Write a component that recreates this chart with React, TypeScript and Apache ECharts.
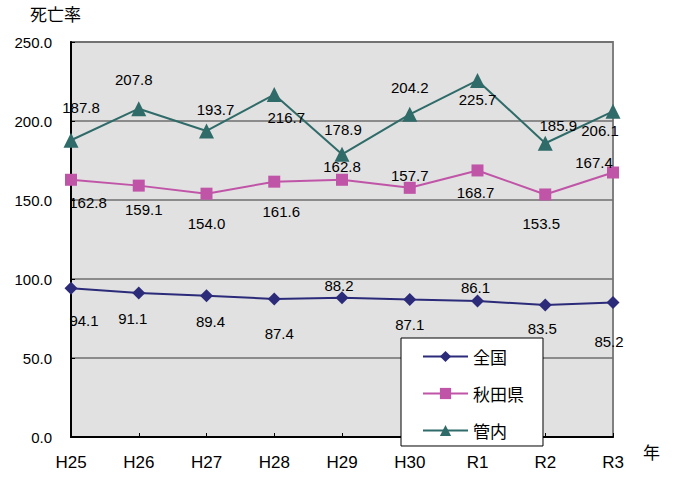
import React, { useEffect, useRef } from "react";
import * as echarts from "echarts";

const categories = ["H25", "H26", "H27", "H28", "H29", "H30", "R1", "R2", "R3"];
const zenkoku = [94.1, 91.1, 89.4, 87.4, 88.2, 87.1, 86.1, 83.5, 85.2];
const akita = [162.8, 159.1, 154.0, 161.6, 162.8, 157.7, 168.7, 153.5, 167.4];
const kannai = [187.8, 207.8, 193.7, 216.7, 178.9, 204.2, 225.7, 185.9, 206.1];

// label offsets (pixels) relative to each point
const zenkokuOff = [[13, 32], [-6, 25], [4, 26], [5, 35], [-3, -12], [0, 25], [-2, -13], [-3, 23], [-4, 39]];
const akitaOff = [[17, 23], [5, 24], [0, 30], [7, 30], [0, -13], [0, -12], [-2, 22], [-4, 29], [-19, -10]];
const kannaiOff = [[10, -33], [-5, -29], [9, -21], [12, 23], [1, -25], [0, -27], [0, 19], [13, -18], [-13, 19]];

const NUM_FONT = "'Liberation Sans', Arial, sans-serif";
const JP_FONT = "'Noto Sans CJK JP', sans-serif";

function mk(vals: number[], offs: number[][]) {
  return vals.map((v, i) => ({
    value: v,
    label: { offset: offs[i] },
  }));
}

export default function App() {
  const ref = useRef<HTMLDivElement>(null);
  useEffect(() => {
    if (!ref.current) return;
    const chart = echarts.init(ref.current, undefined, { renderer: "svg" });
    const labelBase = {
      show: true,
      position: "inside",
      color: "#000",
      fontSize: 15,
      fontFamily: NUM_FONT,
      textBorderWidth: 0,
      formatter: (p: any) => Number(p.value).toFixed(1),
    };
    chart.setOption({
      animation: false,
      backgroundColor: "#ffffff",
      textStyle: { fontFamily: NUM_FONT },
      grid: {
        left: 71,
        right: 64,
        top: 42,
        bottom: 41,
        show: true,
        backgroundColor: "#e1e1e1",
        borderColor: "#808080",
        borderWidth: 2,
      },
      legend: {
        orient: "vertical",
        left: 401,
        top: 338,
        padding: [10, 19, 7, 21],
        itemGap: 20,
        itemWidth: 45,
        itemHeight: 14,
        backgroundColor: "#ffffff",
        borderColor: "#000000",
        borderWidth: 1,
        textStyle: { fontFamily: JP_FONT, fontSize: 17, color: "#000" },
        data: ["全国", "秋田県", "管内"],
        z: 10,
      },
      graphic: [
        {
          type: "text",
          left: 30,
          top: 5,
          style: { text: "死亡率", fontFamily: JP_FONT, fontSize: 17, fill: "#000" },
        },
        {
          type: "text",
          left: 643,
          top: 443,
          style: { text: "年", fontFamily: JP_FONT, fontSize: 17, fill: "#000" },
        },
      ],
      xAxis: {
        type: "category",
        data: categories,
        boundaryGap: false,
        axisLine: { lineStyle: { color: "#000", width: 2 } },
        axisTick: { show: true, inside: true, length: 4, lineStyle: { color: "#000" } },
        axisLabel: { color: "#000", fontSize: 17, fontFamily: NUM_FONT, margin: 17 },
        splitLine: { show: false },
      },
      yAxis: {
        type: "value",
        min: 0,
        max: 250,
        interval: 50,
        axisLine: { show: true, lineStyle: { color: "#000", width: 2 } },
        axisTick: { show: true, inside: true, length: 4, lineStyle: { color: "#000" } },
        axisLabel: {
          color: "#000",
          fontSize: 15,
          fontFamily: NUM_FONT,
          margin: 19,
          formatter: (v: number) => v.toFixed(1),
        },
        splitLine: { show: true, lineStyle: { color: "#6e6e6e", width: 1.5 } },
      },
      series: [
        {
          name: "全国",
          type: "line",
          data: mk(zenkoku, zenkokuOff),
          symbol: "diamond",
          symbolSize: 13,
          color: "#2b2b7a",
          lineStyle: { width: 2, color: "#2b2b7a" },
          itemStyle: { color: "#2b2b7a" },
          label: labelBase,
          z: 3,
        },
        {
          name: "秋田県",
          type: "line",
          data: mk(akita, akitaOff),
          symbol: "rect",
          symbolSize: 12,
          color: "#c055a8",
          lineStyle: { width: 2, color: "#c055a8" },
          itemStyle: { color: "#c055a8" },
          label: labelBase,
          z: 3,
        },
        {
          name: "管内",
          type: "line",
          data: mk(kannai, kannaiOff),
          symbol: "triangle",
          symbolSize: 15,
          color: "#2f6b69",
          lineStyle: { width: 2, color: "#2f6b69" },
          itemStyle: { color: "#2f6b69" },
          label: labelBase,
          z: 3,
        },
      ],
    });
    return () => chart.dispose();
  }, []);
  return (
    <div
      ref={ref}
      style={{ position: "fixed", left: 0, top: 0, width: 677, height: 478 }}
    />
  );
}
